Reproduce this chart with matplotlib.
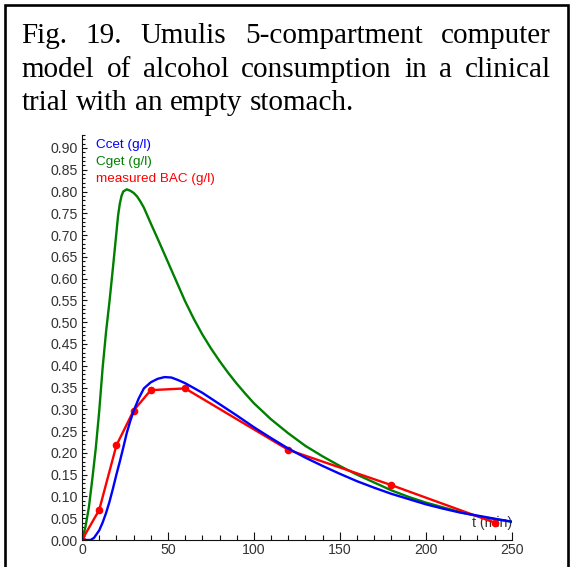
import matplotlib
matplotlib.use("Agg")
import matplotlib.pyplot as plt
from matplotlib.patches import Rectangle
from matplotlib.ticker import MultipleLocator, FormatStrFormatter

# ---------------- data ----------------
t_ccet = [0, 5, 7, 10, 12, 14, 16, 18, 20, 22, 24, 26, 28, 30, 33, 36, 40, 44, 48,
          52, 56, 60, 70, 80, 90, 100, 110, 120, 130, 140, 150, 160, 170, 180, 190,
          200, 210, 220, 230, 240, 250]
ccet = [0.0, 0.0, 0.005, 0.022, 0.040, 0.062, 0.088, 0.118, 0.150, 0.180, 0.212,
        0.245, 0.272, 0.296, 0.325, 0.348, 0.362, 0.370, 0.374, 0.373, 0.367, 0.360,
        0.338, 0.312, 0.286, 0.259, 0.234, 0.210, 0.189, 0.170, 0.152, 0.135, 0.120,
        0.106, 0.094, 0.082, 0.072, 0.063, 0.056, 0.049, 0.042]

t_cget = [0, 2, 4, 6, 8, 10, 12, 14, 16, 18, 20, 21, 22, 23, 24, 26, 28, 30, 32, 34,
          36, 40, 45, 50, 55, 60, 65, 70, 75, 80, 85, 90, 95, 100, 110, 120, 130, 140,
          150, 160, 170, 180, 190, 200, 210, 220, 230, 240, 250]
cget = [0.0, 0.030, 0.075, 0.140, 0.210, 0.295, 0.395, 0.478, 0.548, 0.625, 0.705,
        0.745, 0.772, 0.790, 0.800, 0.805, 0.802, 0.797, 0.789, 0.777, 0.763, 0.727,
        0.683, 0.638, 0.593, 0.548, 0.508, 0.472, 0.440, 0.411, 0.384, 0.359, 0.336,
        0.314, 0.277, 0.245, 0.216, 0.192, 0.170, 0.150, 0.132, 0.114, 0.099, 0.086,
        0.075, 0.064, 0.055, 0.048, 0.042]

t_bac = [0, 10, 20, 30, 40, 60, 120, 180, 240]
bac = [0.0, 0.069, 0.217, 0.297, 0.344, 0.348, 0.207, 0.126, 0.040]

series_labels = ["Ccet (g/l)", "Cget (g/l)", "measured BAC (g/l)"]
x_label = "t (min)"
title_lines = ["Fig. 19. Umulis 5-compartment computer",
               "model of alcohol consumption in a clinical",
               "trial with an empty stomach."]

# ---------------- figure ----------------
W, H = 571, 567
fig = plt.figure(figsize=(W / 100, H / 100), dpi=100)
fig.patch.set_facecolor("white")

ax = fig.add_axes([82 / W, 1 - 540 / H, (511.7 - 82) / W, (540 - 134.9) / H])
ax.set_facecolor("white")

BLUE = "#0000ff"
GREEN = "#008000"
RED = "#ff0000"

ax.plot(t_ccet, ccet, color=BLUE, lw=1.7, label=series_labels[0], zorder=3)
ax.plot(t_cget, cget, color=GREEN, lw=1.7, label=series_labels[1], zorder=2)
ax.plot(t_bac, bac, color=RED, lw=1.7, marker="o", ms=4.5,
        label=series_labels[2], zorder=2.5)

ax.set_xlim(0, 250)
ax.set_ylim(0, 0.93)

for s in ["top", "right"]:
    ax.spines[s].set_visible(False)
for s in ["left", "bottom"]:
    ax.spines[s].set_linewidth(0.8)
    ax.spines[s].set_color("#111111")

TICK_FS = 10.2
ax.xaxis.set_major_locator(MultipleLocator(50))
ax.xaxis.set_minor_locator(MultipleLocator(10))
ax.yaxis.set_major_locator(MultipleLocator(0.05))
ax.yaxis.set_minor_locator(MultipleLocator(0.01))
ax.yaxis.set_major_formatter(FormatStrFormatter("%.2f"))

ax.tick_params(axis="x", which="major", direction="in", length=6, width=0.8,
               pad=2.5, colors="#111111", labelcolor="#333333")
ax.tick_params(axis="x", which="minor", direction="in", length=3.6, width=0.8,
               colors="#111111")
ax.tick_params(axis="y", which="major", direction="in", length=3.6, width=0.8,
               pad=3, colors="#111111", labelcolor="#333333")
ax.tick_params(axis="y", which="minor", direction="in", length=2.2, width=0.8,
               colors="#111111")
for lab in ax.get_xticklabels() + ax.get_yticklabels():
    lab.set_fontfamily("Liberation Sans")
    lab.set_fontsize(TICK_FS)

ax.set_xlabel(x_label, fontfamily="Liberation Sans", fontsize=TICK_FS,
              color="#333333", ha="right", va="baseline")
ax.xaxis.set_label_coords(1.0, 13 / 405)

leg = ax.legend(loc="upper left", bbox_to_anchor=(14 / 430, 0.991), frameon=False,
                handlelength=0, handletextpad=0, labelspacing=0.33,
                borderaxespad=0, borderpad=0,
                prop=dict(family="Liberation Sans", size=9.7))
for txt, c in zip(leg.get_texts(), [BLUE, GREEN, RED]):
    txt.set_color(c)
for h in leg.legend_handles:
    h.set_visible(False)

# ---------------- frame ----------------
fig.patches.append(Rectangle((4.5 / W, -0.05), (567.5 - 4.5) / W, 1.05 - 4.5 / H,
                             transform=fig.transFigure, fill=False,
                             edgecolor="black", lw=1.9, zorder=10))

# ---------------- justified title ----------------
fig.canvas.draw()
renderer = fig.canvas.get_renderer()
TITLE_FS = 21
title_kw = dict(family="Liberation Serif", size=TITLE_FS, color="black",
                va="baseline", ha="left")
baselines = [43.3, 76.7, 110.0]
x0_px, x1_px = 21.5, 550.5
for i, (line, b) in enumerate(zip(title_lines, baselines)):
    words = line.split(" ")
    texts = [fig.text(0, 1 - b / H, w, **title_kw) for w in words]
    widths = [t.get_window_extent(renderer).width for t in texts]
    if i < len(title_lines) - 1:
        gap = (x1_px - x0_px - sum(widths)) / (len(words) - 1)
    else:
        gap = 0.25 * TITLE_FS * 100 / 72
    x = x0_px
    for t, w in zip(texts, widths):
        t.set_x(x / W)
        x += w + gap

fig.savefig("out.png", dpi=100, facecolor="white")
